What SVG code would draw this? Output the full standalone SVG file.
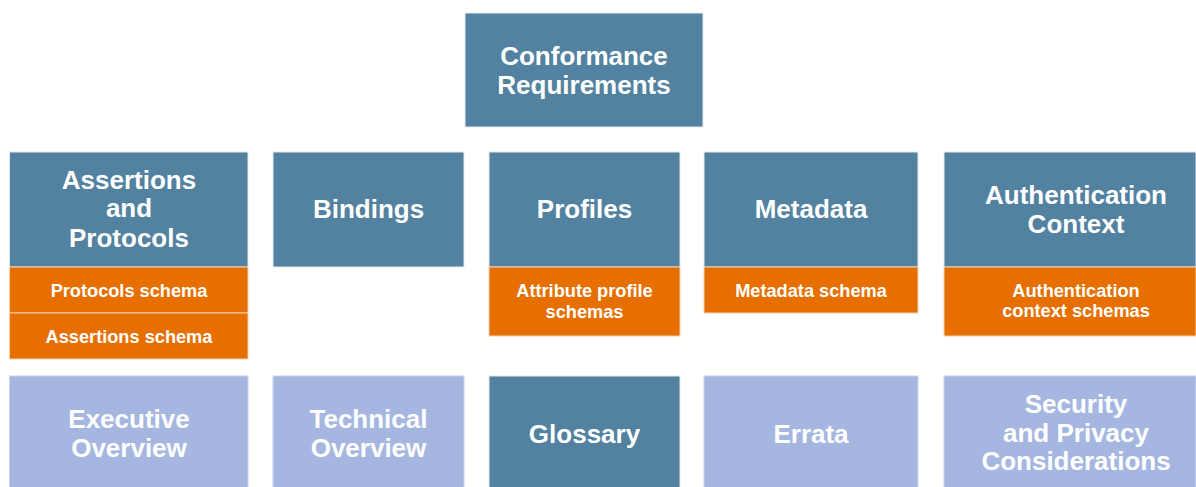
<svg xmlns="http://www.w3.org/2000/svg" width="1196" height="487" viewBox="0 0 1196 487">
<style>
.b{fill:#5282A0;stroke:#e4ebf1;stroke-width:1}
.o{fill:#E66F00;stroke:#f3d2b3;stroke-width:1}
.l{fill:#A5B7E0;stroke:#c8d4ee;stroke-width:1}
text{font-family:"Liberation Sans",Arial,sans-serif;font-weight:bold;fill:#fff;text-anchor:middle}
.t{font-size:26px}
.s{font-size:18.2px}
</style>
<rect width="1196" height="487" fill="#fff"/>
<g id="connectors"></g>
<g id="conformance"><rect class="b" x="465" y="13" width="238" height="114"/><text class="t" x="584" y="65">Conformance</text><text class="t" x="584" y="94">Requirements</text></g>
<g id="assertions"><rect class="b" x="9.5" y="152" width="238.5" height="115"/><text class="t" x="129" y="188.5">Assertions</text><text class="t" x="129" y="217">and</text><text class="t" x="129" y="247">Protocols</text></g>
<g id="protocols-schema"><rect class="o" x="9.5" y="267" width="238.5" height="46"/><text class="s" x="129" y="297">Protocols schema</text></g>
<g id="assertions-schema"><rect class="o" x="9.5" y="313" width="238.5" height="46"/><text class="s" x="129" y="343">Assertions schema</text></g>
<g id="bindings"><rect class="b" x="273" y="152" width="191" height="115"/><text class="t" x="368.5" y="218">Bindings</text></g>
<g id="profiles"><rect class="b" x="489" y="152" width="191" height="115"/><text class="t" x="584.5" y="218">Profiles</text></g>
<g id="attribute-profile-schemas"><rect class="o" x="489" y="267" width="191" height="69"/><text class="s" x="584.5" y="297">Attribute profile</text><text class="s" x="584.5" y="318">schemas</text></g>
<g id="metadata"><rect class="b" x="704" y="152" width="214" height="115"/><text class="t" x="811" y="218">Metadata</text></g>
<g id="metadata-schema"><rect class="o" x="704" y="267" width="214" height="46"/><text class="s" x="811" y="297">Metadata schema</text></g>
<g id="authn-context"><rect class="b" x="944" y="152" width="252" height="115"/><text class="t" x="1076" y="204">Authentication</text><text class="t" x="1076" y="233">Context</text></g>
<g id="authn-context-schemas"><rect class="o" x="944" y="267" width="252" height="69"/><text class="s" x="1076" y="297">Authentication</text><text class="s" x="1076" y="317">context schemas</text></g>
<g id="executive-overview"><rect class="l" x="9.5" y="376" width="238.5" height="112"/><text class="t" x="129" y="428">Executive</text><text class="t" x="129" y="457">Overview</text></g>
<g id="technical-overview"><rect class="l" x="273" y="376" width="191" height="112"/><text class="t" x="368.5" y="428">Technical</text><text class="t" x="368.5" y="457">Overview</text></g>
<g id="glossary"><rect class="b" x="489" y="376" width="191" height="112"/><text class="t" x="584.5" y="443">Glossary</text></g>
<g id="errata"><rect class="l" x="704" y="376" width="214" height="112"/><text class="t" x="811" y="443">Errata</text></g>
<g id="security"><rect class="l" x="944" y="376" width="252" height="112"/><text class="t" x="1076" y="413">Security</text><text class="t" x="1076" y="442">and Privacy</text><text class="t" x="1076" y="470">Considerations</text></g>
</svg>
